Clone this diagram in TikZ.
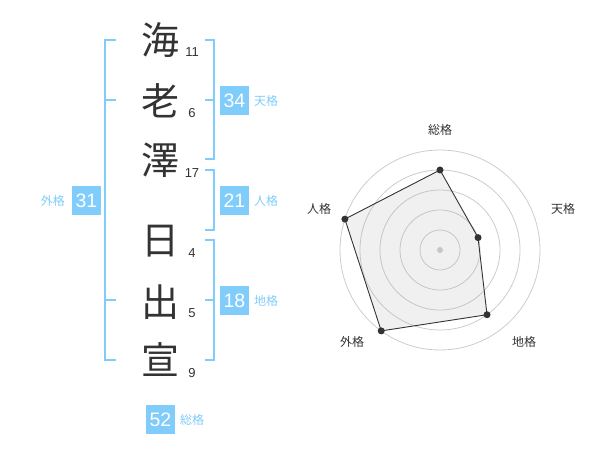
\documentclass[tikz,border=0pt]{standalone}
\usepackage{fontspec}
\setmainfont{Liberation Sans}
\newfontfamily\cjk{Noto Sans CJK JP}
\definecolor{kblue}{RGB}{128,204,250}
\definecolor{kdark}{RGB}{51,51,51}
\definecolor{kring}{RGB}{204,204,204}
\begin{document}
\begin{tikzpicture}[x=1pt,y=-1pt,
  bigchar/.style={font=\cjk\fontsize{38}{38}\selectfont, text=kdark, inner sep=0pt},
  stroke/.style={font=\fontsize{13}{13}\selectfont, text=kdark, inner sep=0pt},
  scorebox/.style={fill=kblue, text=white, minimum width=29pt, minimum height=29pt, inner sep=0pt, font=\fontsize{19.5}{19.5}\selectfont},
  kakulabel/.style={text=kblue, font=\cjk\fontsize{12}{12}\selectfont, inner sep=0pt},
  bracket/.style={draw=kblue, line width=2pt},
  axislabel/.style={text=kdark, font=\cjk\fontsize{12}{12}\selectfont, inner sep=0pt},
  ring/.style={draw=kring, line width=0.8pt},
  vdot/.style={circle, fill=kdark, inner sep=0pt, minimum size=7pt}]
\useasboundingbox (0,0) rectangle (600,470);
% big characters
\node[bigchar] (c1) at (160,40) {海};
\node[bigchar] (c2) at (160,101) {老};
\node[bigchar] (c3) at (160,160) {澤};
\node[bigchar] (c4) at (160,241) {日};
\node[bigchar] (c5) at (160,302) {出};
\node[bigchar] (c6) at (160,360) {宣};
% stroke counts
\node[stroke] (s1) at (192,52) {11};
\node[stroke] (s2) at (192,113) {6};
\node[stroke] (s3) at (192,173) {17};
\node[stroke] (s4) at (192,253) {4};
\node[stroke] (s5) at (192,313) {5};
\node[stroke] (s6) at (192,373) {9};
% brackets
\draw[bracket] (116,40) -- (105,40) -- (105,360) -- (116,360);
\draw[bracket] (105,100) -- (116,100);
\draw[bracket] (105,300) -- (116,300);
\draw[bracket] (205,40) -- (214,40) -- (214,159) -- (205,159);
\draw[bracket] (205,100) -- (214,100);
\draw[bracket] (205,170) -- (214,170) -- (214,230) -- (205,230);
\draw[bracket] (205,240) -- (214,240) -- (214,360) -- (205,360);
\draw[bracket] (205,300) -- (214,300);
% score boxes
\node[scorebox] (gai) at (86.5,200.5) {31};
\node[kakulabel, anchor=east] (gail) at (65,201) {外格};
\node[scorebox] (ten) at (234.5,100.5) {34};
\node[kakulabel, anchor=west] (tenl) at (254,101) {天格};
\node[scorebox] (jin) at (234.5,200.5) {21};
\node[kakulabel, anchor=west] (jinl) at (254,201) {人格};
\node[scorebox] (chi) at (234.5,300.5) {18};
\node[kakulabel, anchor=west] (chil) at (254,301) {地格};
\node[scorebox] (sou) at (160.5,419.5) {52};
\node[kakulabel, anchor=west] (soul) at (180,420) {総格};
% radar chart
\begin{scope}[shift={(440,250)}, yscale=-1]
  \foreach \r in {20,40,60,80,100} \draw[ring] (0,0) circle (\r);
  \fill[kring] (0,0) circle (3);
  \coordinate (p1) at (90:80);
  \coordinate (p2) at (18:40);
  \coordinate (p3) at (-54:80);
  \coordinate (p4) at (-126:100);
  \coordinate (p5) at (162:100);
  \fill[black!30, fill opacity=0.2] (p1) -- (p2) -- (p3) -- (p4) -- (p5) -- cycle;
  \draw[kdark, line width=0.9pt] (p1) -- (p2) -- (p3) -- (p4) -- (p5) -- cycle;
  \foreach \p in {p1,p2,p3,p4,p5} \node[vdot] at (\p) {};
\end{scope}
\node[axislabel] (a1) at (440,130) {総格};
\node[axislabel] (a2) at (563,209) {天格};
\node[axislabel] (a3) at (524,342) {地格};
\node[axislabel] (a4) at (352,342) {外格};
\node[axislabel] (a5) at (319,209) {人格};
\end{tikzpicture}
\end{document}
